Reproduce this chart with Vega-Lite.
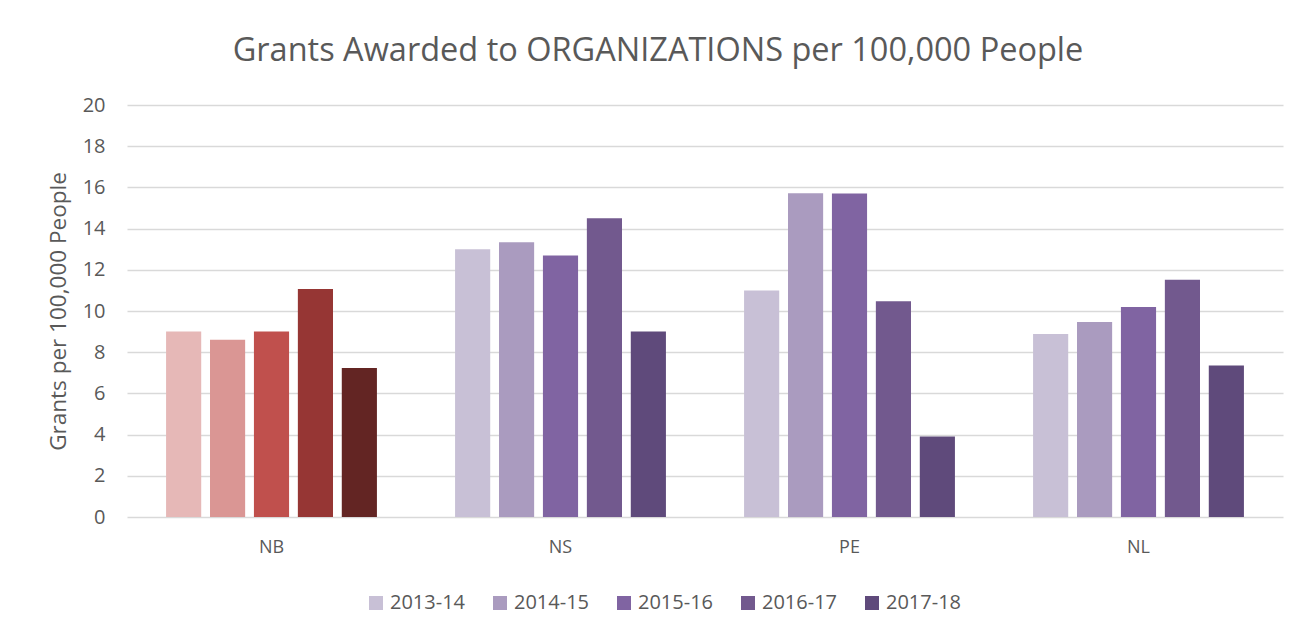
{
  "$schema": "https://vega.github.io/schema/vega-lite/v6.json",
  "width": 1156,
  "height": 412,
  "autosize": "none",
  "padding": {"left": 127, "top": 105, "right": 29, "bottom": 120},
  "background": "white",
  "title": {
    "text": "Grants Awarded to ORGANIZATIONS per 100,000 People",
    "fontSize": 32.5,
    "font": "Open Sans",
    "fontWeight": "normal",
    "color": "#595959",
    "offset": 28,
    "dx": -47,
    "anchor": "middle"
  },
  "data": {
    "values": [
      {"province": "NB", "year": "2013-14", "value": 9.0},
      {"province": "NB", "year": "2014-15", "value": 8.6},
      {"province": "NB", "year": "2015-16", "value": 9.0},
      {"province": "NB", "year": "2016-17", "value": 11.07},
      {"province": "NB", "year": "2017-18", "value": 7.23},
      {"province": "NS", "year": "2013-14", "value": 13.0},
      {"province": "NS", "year": "2014-15", "value": 13.34},
      {"province": "NS", "year": "2015-16", "value": 12.7},
      {"province": "NS", "year": "2016-17", "value": 14.5},
      {"province": "NS", "year": "2017-18", "value": 9.0},
      {"province": "PE", "year": "2013-14", "value": 10.99},
      {"province": "PE", "year": "2014-15", "value": 15.71},
      {"province": "PE", "year": "2015-16", "value": 15.7},
      {"province": "PE", "year": "2016-17", "value": 10.47},
      {"province": "PE", "year": "2017-18", "value": 3.91},
      {"province": "NL", "year": "2013-14", "value": 8.88},
      {"province": "NL", "year": "2014-15", "value": 9.47},
      {"province": "NL", "year": "2015-16", "value": 10.2},
      {"province": "NL", "year": "2016-17", "value": 11.52},
      {"province": "NL", "year": "2017-18", "value": 7.36}
    ]
  },
  "encoding": {
    "x": {
      "field": "province",
      "type": "nominal",
      "scale": {"domain": ["NB", "NS", "PE", "NL"], "paddingInner": 0.24, "paddingOuter": 0.12},
      "axis": {
        "title": null,
        "labelAngle": 0,
        "labelFontSize": 18,
        "labelFont": "Open Sans",
        "labelColor": "#595959",
        "ticks": false,
        "domain": false,
        "labelPadding": 21
      }
    },
    "xOffset": {
      "field": "year",
      "type": "nominal",
      "scale": {"paddingInner": 0.2, "paddingOuter": 0.1}
    },
    "y": {
      "field": "value",
      "type": "quantitative",
      "scale": {"domain": [0, 20]},
      "axis": {
        "title": "Grants per 100,000 People",
        "titleFontSize": 22.5,
        "titleFont": "Open Sans",
        "titleFontWeight": "normal",
        "titleColor": "#595959",
        "titlePadding": 12,
        "values": [0, 2, 4, 6, 8, 10, 12, 14, 16, 18, 20],
        "labelFontSize": 20,
        "labelFont": "Open Sans",
        "labelColor": "#595959",
        "labelPadding": 22,
        "ticks": false,
        "domain": false,
        "gridColor": "#D9D9D9",
        "gridWidth": 1.5
      }
    }
  },
  "layer": [
    {
      "transform": [{"filter": "datum.province !== 'NB'"}],
      "mark": {"type": "bar"},
      "encoding": {
        "color": {
          "field": "year",
          "type": "nominal",
          "scale": {
            "domain": ["2013-14", "2014-15", "2015-16", "2016-17", "2017-18"],
            "range": ["#C8C0D6", "#AA9BBF", "#8064A2", "#72598E", "#5F4A7B"]
          },
          "legend": {
            "title": null,
            "orient": "none",
            "legendX": 239,
            "legendY": 488,
            "direction": "horizontal",
            "symbolType": "square",
            "symbolSize": 196,
            "symbolStrokeWidth": 0,
            "labelFontSize": 20,
            "labelFont": "Open Sans",
            "labelColor": "#595959",
            "labelOffset": 4,
            "columnPadding": 24
          }
        }
      }
    },
    {
      "transform": [{"filter": "datum.province === 'NB'"}],
      "mark": {"type": "bar"},
      "encoding": {
        "color": {
          "field": "year",
          "type": "nominal",
          "scale": {
            "domain": ["2013-14", "2014-15", "2015-16", "2016-17", "2017-18"],
            "range": ["#E6B8B7", "#DA9694", "#C0504D", "#963634", "#632523"]
          },
          "legend": null
        }
      }
    }
  ],
  "resolve": {"scale": {"color": "independent"}},
  "config": {"view": {"stroke": null}}
}
